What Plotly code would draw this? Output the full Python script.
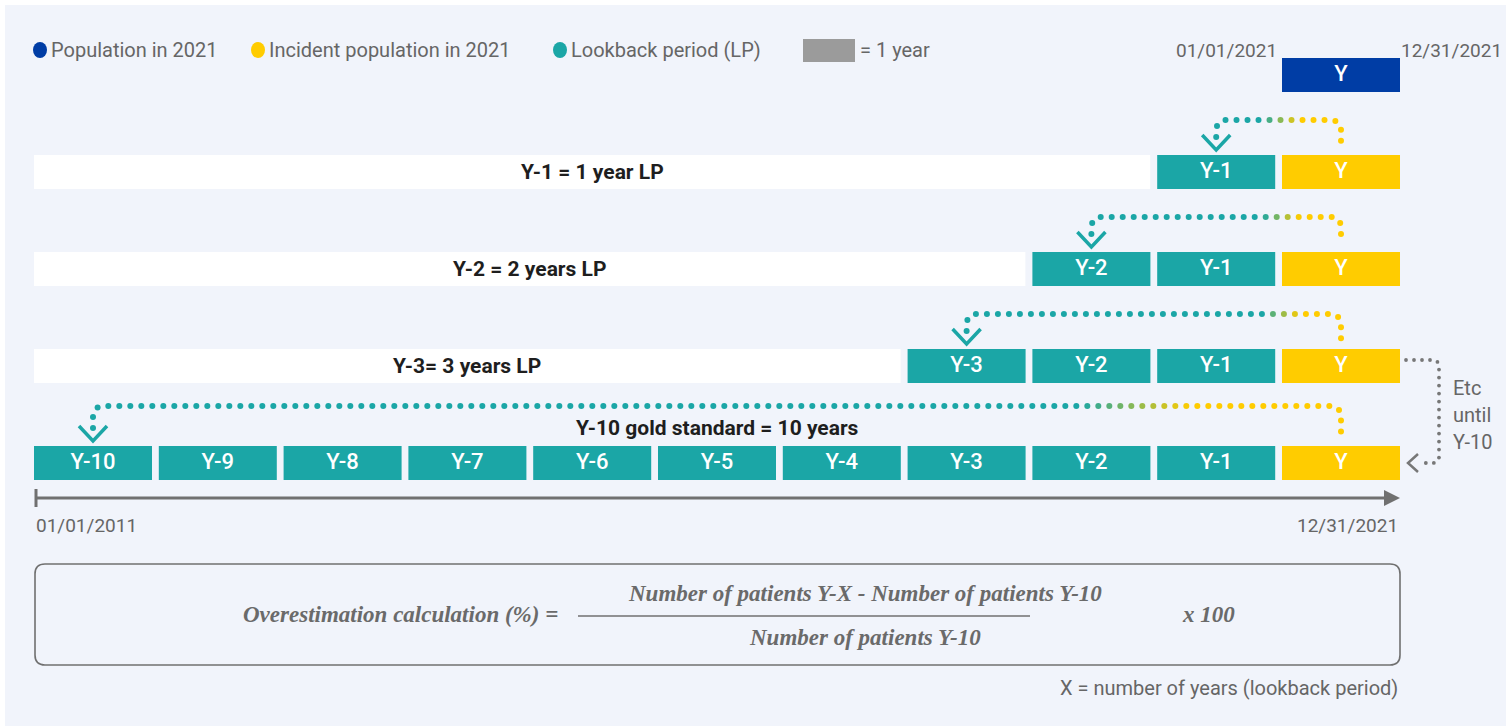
import numpy as np
import plotly.graph_objects as go

# ---------------- data ----------------
year_labels = ["Y-10", "Y-9", "Y-8", "Y-7", "Y-6", "Y-5", "Y-4", "Y-3", "Y-2", "Y-1", "Y"]
year_offsets = [-10, -9, -8, -7, -6, -5, -4, -3, -2, -1, 0]
lookbacks = [1, 2, 3, 10]
row_titles = ["Y-1 = 1 year LP", "Y-2 = 2 years LP", "Y-3= 3 years LP", "Y-10 gold standard = 10 years"]
legend_labels = ["Population in 2021", "Incident population in 2021", "Lookback period (LP)"]
legend_unit = "= 1 year"
axis_start = "01/01/2011"
axis_end = "12/31/2021"
year_start = "01/01/2021"
year_end = "12/31/2021"
etc_lines = ["Etc", "until", "Y-10"]
formula_lhs = "Overestimation calculation (%) ="
formula_num = "Number of patients Y-X - Number of patients Y-10"
formula_den = "Number of patients Y-10"
formula_mult = "x 100"
footnote = "X = number of years (lookback period)"

# ---------------- style ----------------
W, H = 1506, 726
BLUE = "#003DA5"
YELLOW = "#FFCC00"
TEAL = "#1BA6A6"
GREYBOX = "#9B9B9B"
PANEL = "#F1F4FB"
TXT_GREY = "#666666"
LINE_GREY = "#707070"
DARK = "#1E1E1E"
FONT = "Roboto"

PX_YEAR = 124.8   # pixels per year
X_Y = 1341.0      # pixel x of the centre of year Y
ROW0 = 75.0       # pixel y of first row centre
PITCH = 97.0      # pixels between rows
HALF_W = 59.0
HALF_H = 17.0


def X(px):
    return (px - X_Y) / PX_YEAR


def Y(py):
    return (py - ROW0) / PITCH


def px_of(off):
    return X_Y + off * PX_YEAR


def py_of(r):
    return ROW0 + r * PITCH


fig = go.Figure()
shapes = []
annotations = []

# background panel
shapes.append(dict(type="rect", xref="paper", yref="paper", x0=5 / W, x1=1.0, y0=0, y1=1 - 5 / H,
                   fillcolor=PANEL, line=dict(width=0), layer="below"))

# ---------------- rows of blocks ----------------
rows = [[(0, BLUE)]]
for L in lookbacks:
    rows.append([(o, TEAL) for o in year_offsets if -L <= o < 0] + [(0, YELLOW)])

tx, ty, tt = [], [], []
for r, blocks in enumerate(rows):
    for off, col in blocks:
        shapes.append(dict(type="rect", xref="x", yref="y", layer="below",
                           x0=off - HALF_W / PX_YEAR, x1=off + HALF_W / PX_YEAR,
                           y0=r - HALF_H / PITCH, y1=r + HALF_H / PITCH,
                           fillcolor=col, line=dict(width=0)))
        tx.append(off)
        ty.append(r)
        tt.append(year_labels[year_offsets.index(off)])

fig.add_trace(go.Scatter(x=tx, y=ty, text=tt, mode="text", hoverinfo="skip",
                         textfont=dict(family=FONT, size=22, color="white", weight=500),
                         showlegend=False))

# white bars with titles for rows 1..3; title above row 4
left_edge = -10 - HALF_W / PX_YEAR
for i, L in enumerate(lookbacks):
    r = i + 1
    if L < 10:
        right = -L - (HALF_W + 7) / PX_YEAR
        shapes.append(dict(type="rect", xref="x", yref="y", x0=left_edge, x1=right, layer="below",
                           y0=r - HALF_H / PITCH, y1=r + HALF_H / PITCH,
                           fillcolor="white", line=dict(width=0)))
        annotations.append(dict(x=(left_edge + right) / 2, y=r, xref="x", yref="y",
                                text=row_titles[i], showarrow=False,
                                font=dict(family=FONT, size=21, color=DARK, weight="bold")))
    else:
        annotations.append(dict(x=-5, y=r - 35 / PITCH, xref="x", yref="y",
                                text=row_titles[i], showarrow=False,
                                font=dict(family=FONT, size=21, color=DARK, weight="bold")))


# ---------------- dotted arrows ----------------
def arc(cx, cy, R, a0, a1, n=12):
    a = np.radians(np.linspace(a0, a1, n))
    return list(zip(cx + R * np.cos(a), cy + R * np.sin(a)))


def sample(pts, spacing):
    pts = np.array(pts, float)
    seg = np.diff(pts, axis=0)
    ln = np.hypot(seg[:, 0], seg[:, 1])
    cum = np.concatenate([[0], np.cumsum(ln)])
    s = np.arange(0, cum[-1] + 1e-6, spacing)
    return np.interp(s, cum, pts[:, 0]), np.interp(s, cum, pts[:, 1])


def mix(c1, c2, t):
    a = np.array([int(c1[i:i + 2], 16) for i in (1, 3, 5)])
    b = np.array([int(c2[i:i + 2], 16) for i in (1, 3, 5)])
    c = (a * (1 - t) + b * t).round().astype(int)
    return "rgb(%d,%d,%d)" % tuple(c)


R = 10
for i, L in enumerate(lookbacks):
    r = i + 1
    rc = py_of(r)
    xs = px_of(0)
    xt = px_of(-L)
    ya = rc - (57 if L == 10 else 52)
    pts = [(xt, rc - 35), (xt, ya + R)]
    pts += arc(xt + R, ya + R, R, 180, 270)
    pts += [(xs - R, ya)]
    pts += arc(xs - R, ya + R, R, 270, 360)
    pts += [(xs, rc - 24)]
    dx, dy = sample(pts, 11)
    xa, xb = (1080, 1190) if L == 10 else (1262, 1300)
    cols = [mix(TEAL, YELLOW, float(np.clip((x - xa) / (xb - xa), 0, 1))) for x in dx]
    fig.add_trace(go.Scatter(x=X(dx), y=Y(dy), mode="markers", hoverinfo="skip", showlegend=False,
                             marker=dict(size=6, color=cols, line=dict(width=0))))
    fig.add_trace(go.Scatter(x=[X(xt - 14), X(xt), X(xt + 14)],
                             y=[Y(rc - 37), Y(rc - 22), Y(rc - 37)],
                             mode="lines", hoverinfo="skip", showlegend=False,
                             line=dict(color=TEAL, width=3.5)))

# "Etc until Y-10" dotted connector
r3, r4 = py_of(3), py_of(4)
xe0 = px_of(0) + HALF_W + 6
ex = 1439
pts = [(xe0, r3 - 6), (ex - 6, r3 - 6)]
pts += arc(ex - 6, r3, 6, 270, 360)
pts += [(ex, r4 - 6)]
pts += arc(ex - 6, r4 - 6, 6, 0, 90)
pts += [(1420, r4)]
dx, dy = sample(pts, 8)
fig.add_trace(go.Scatter(x=X(dx), y=Y(dy), mode="markers", hoverinfo="skip", showlegend=False,
                         marker=dict(size=3.8, color="#777777", line=dict(width=0))))
fig.add_trace(go.Scatter(x=[X(1418), X(1408), X(1418)], y=[Y(r4 - 9), Y(r4), Y(r4 + 9)],
                         mode="lines", hoverinfo="skip", showlegend=False,
                         line=dict(color="#777777", width=2.5)))
for k, t in enumerate(etc_lines):
    annotations.append(dict(x=X(1451), y=Y(388 + 27 * k), xref="x", yref="y", text=t,
                            showarrow=False, xanchor="left",
                            font=dict(family=FONT, size=20, color=TXT_GREY)))

# ---------------- timeline axis ----------------
ay = 498
x_left = px_of(-10) - HALF_W + 2
x_right = px_of(0) + HALF_W
shapes.append(dict(type="line", xref="x", yref="y", x0=X(x_left), x1=X(x_right - 12),
                   y0=Y(ay), y1=Y(ay), line=dict(color=LINE_GREY, width=3)))
shapes.append(dict(type="line", xref="x", yref="y", x0=X(x_left), x1=X(x_left),
                   y0=Y(ay - 9), y1=Y(ay + 9), line=dict(color=LINE_GREY, width=3)))
shapes.append(dict(type="path", xref="x", yref="y",
                   path="M %f %f L %f %f L %f %f Z" % (X(x_right - 16), Y(ay - 8), X(x_right), Y(ay),
                                                       X(x_right - 16), Y(ay + 8)),
                   fillcolor=LINE_GREY, line=dict(width=0)))
annotations.append(dict(x=X(px_of(-10) - HALF_W), y=Y(525), xref="x", yref="y", text=axis_start,
                        showarrow=False, xanchor="left", font=dict(family=FONT, size=19, color=TXT_GREY)))
annotations.append(dict(x=X(px_of(0) + HALF_W), y=Y(525), xref="x", yref="y", text=axis_end,
                        showarrow=False, xanchor="right", font=dict(family=FONT, size=19, color=TXT_GREY)))

# top date labels around Y block
annotations.append(dict(x=X(px_of(0) - HALF_W - 3), y=Y(50), xref="x", yref="y", text=year_start,
                        showarrow=False, xanchor="right", font=dict(family=FONT, size=19, color=TXT_GREY)))
annotations.append(dict(x=X(px_of(0) + HALF_W - 1), y=Y(50), xref="x", yref="y", text=year_end,
                        showarrow=False, xanchor="left", font=dict(family=FONT, size=19, color=TXT_GREY)))

# ---------------- legend ----------------
leg_x = [40, 258, 560]
leg_cols = [BLUE, YELLOW, TEAL]
for lx, lc, lt in zip(leg_x, leg_cols, legend_labels):
    shapes.append(dict(type="circle", xref="x", yref="y", x0=X(lx - 7), x1=X(lx + 7),
                       y0=Y(50 - 8), y1=Y(50 + 8), fillcolor=lc, line=dict(width=0)))
    annotations.append(dict(x=X(lx + 9), y=Y(50), xref="x", yref="y", text=lt, showarrow=False,
                            xanchor="left", font=dict(family=FONT, size=20, color=TXT_GREY)))
shapes.append(dict(type="rect", xref="x", yref="y", x0=X(803), x1=X(855), y0=Y(39), y1=Y(62),
                   fillcolor=GREYBOX, line=dict(width=0)))
annotations.append(dict(x=X(858), y=Y(50), xref="x", yref="y", text=legend_unit, showarrow=False,
                        xanchor="left", font=dict(family=FONT, size=20, color=TXT_GREY)))

# ---------------- formula box ----------------
bx0, bx1, by0, by1, rr = 35, 1400, 564, 665, 10
path = ("M %f %f L %f %f Q %f %f %f %f L %f %f Q %f %f %f %f L %f %f Q %f %f %f %f L %f %f Q %f %f %f %f Z" % (
    X(bx0 + rr), Y(by0), X(bx1 - rr), Y(by0), X(bx1), Y(by0), X(bx1), Y(by0 + rr),
    X(bx1), Y(by1 - rr), X(bx1), Y(by1), X(bx1 - rr), Y(by1),
    X(bx0 + rr), Y(by1), X(bx0), Y(by1), X(bx0), Y(by1 - rr),
    X(bx0), Y(by0 + rr), X(bx0), Y(by0), X(bx0 + rr), Y(by0)))
shapes.append(dict(type="path", xref="x", yref="y", path=path, line=dict(color=LINE_GREY, width=1.6)))
shapes.append(dict(type="line", xref="x", yref="y", x0=X(578), x1=X(1030), y0=Y(616), y1=Y(616),
                   line=dict(color=LINE_GREY, width=1.6)))
FF = "Liberation Serif"
fcol = "#6A6A6A"
annotations.append(dict(x=X(560), y=Y(614), xref="x", yref="y", text="<b><i>%s</i></b>" % formula_lhs,
                        showarrow=False, xanchor="right", font=dict(family=FF, size=23, color=fcol)))
annotations.append(dict(x=X(865), y=Y(593), xref="x", yref="y", text="<b><i>%s</i></b>" % formula_num,
                        showarrow=False, font=dict(family=FF, size=23, color=fcol)))
annotations.append(dict(x=X(865), y=Y(637), xref="x", yref="y", text="<b><i>%s</i></b>" % formula_den,
                        showarrow=False, font=dict(family=FF, size=23, color=fcol)))
annotations.append(dict(x=X(1180), y=Y(614), xref="x", yref="y", text="<b><i>%s</i></b>" % formula_mult,
                        showarrow=False, xanchor="left", font=dict(family=FF, size=23, color=fcol)))
annotations.append(dict(x=X(1400), y=Y(688), xref="x", yref="y", text=footnote, showarrow=False,
                        xanchor="right", font=dict(family=FONT, size=20, color=TXT_GREY)))

fig.update_layout(
    width=W, height=H, margin=dict(l=0, r=0, t=0, b=0),
    paper_bgcolor="white", plot_bgcolor="rgba(0,0,0,0)",
    xaxis=dict(range=[X(0), X(W)], visible=False, fixedrange=True),
    yaxis=dict(range=[Y(H), Y(0)], visible=False, fixedrange=True),
    shapes=shapes, annotations=annotations, showlegend=False,
)
fig.write_html("out.html", config={"displayModeBar": False},
               post_script="document.body.style.margin='0';document.body.style.overflow='hidden';")
